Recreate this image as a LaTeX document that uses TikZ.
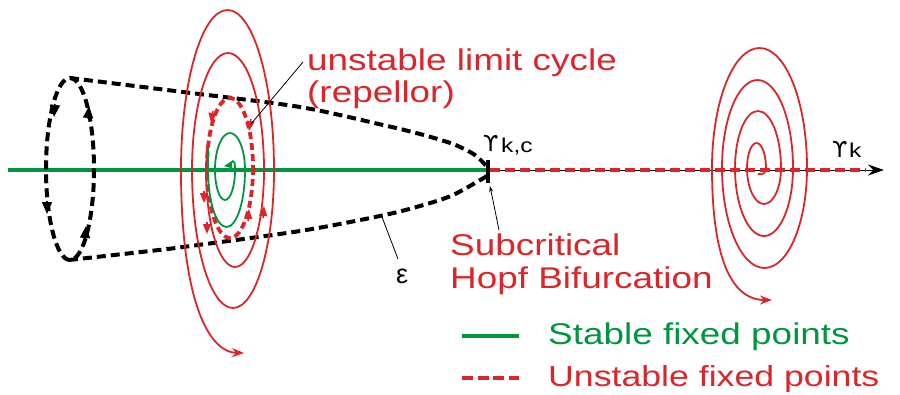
\documentclass[tikz,border=0pt]{standalone}
\usepackage{graphicx}
\usepackage{fontspec}
\setmainfont{Liberation Sans}
\newfontfamily\djv{DejaVu Sans}
\usetikzlibrary{arrows.meta}
\definecolor{cred}{RGB}{218,37,42}
\definecolor{cgreen}{RGB}{0,150,64}
\newcommand\widetxt[1]{\scalebox{1.23}[1]{#1}}
\begin{document}
\begin{tikzpicture}[x=1pt,y=-1pt,
  redthin/.style={draw=cred, line width=1.8pt},
  greenthin/.style={draw=cgreen, line width=1.8pt},
  reddash/.style={draw=cred, line width=3.8pt, dash pattern=on 7pt off 4pt},
  blackdash/.style={draw=black, line width=4pt, dash pattern=on 9pt off 5pt},
  redtip/.style={draw=cred, line width=1.5pt, -{Triangle[length=10pt,width=8pt]}},
  blacktip/.style={draw=black, line width=1.5pt, -{Triangle[length=12pt,width=10pt]}},
  pointer/.style={draw=black, line width=0.8pt},
  lbl/.style={font=\fontsize{30}{34}\selectfont, inner sep=0pt, anchor=base west}
]
\useasboundingbox (0,0) rectangle (900,394);

% ---- axis ----
\draw[cgreen, line width=3.5pt] (8,170) -- (487,170);
\draw[black, line width=1pt, -{Stealth[length=16pt,width=11pt]}] (487,170) -- (884,170);
\draw[reddash, line width=3.5pt, dash pattern=on 10pt off 5pt] (490,170) -- (866,170);

% ---- cone (black dashed) ----
\draw[blackdash] plot[smooth] coordinates {(70,78) (183,92) (300,107) (383,125) (420,134) (453,144) (475,155) (487,167)};
\draw[blackdash] plot[smooth] coordinates {(69,260) (150,251) (183,247) (300,231) (380,216) (420,206) (453,195) (487,176)};
\draw[blackdash] (70,169) ellipse[x radius=24, y radius=91];
\draw[black, line width=4pt] (488,160) -- (488,183);
\draw[blacktip] (55,104) -- (54,117);
\draw[blacktip] (88,119) -- (89,106);
\draw[blacktip] (47,201) -- (47,214);
\draw[blacktip] (85,239) -- (86,226);

% ---- left spirals ----
\draw[redthin, -{Stealth[length=12pt,width=9pt]}] (207,147) -- (206,170)
  arc[start angle=180, end angle=0, x radius=29, y radius=97]
  arc[start angle=0, end angle=-180, x radius=36, y radius=117]
  arc[start angle=180, end angle=0, x radius=41, y radius=138]
  arc[start angle=0, end angle=-180, x radius=46.5, y radius=160]
  .. controls (181,290) and (205,352) .. (244,353);
\draw[reddash] (230,168) ellipse[x radius=23, y radius=70];
\draw[greenthin] (208,147) -- (208,170)
  arc[start angle=180, end angle=0, x radius=18.5, y radius=57]
  arc[start angle=0, end angle=-180, x radius=15, y radius=37]
  arc[start angle=180, end angle=0, x radius=10, y radius=30]
  .. controls (235,155) and (232,163) .. (228,165);
\draw[cgreen, line width=1.2pt, -{Triangle[length=8pt,width=7pt]}] (232,165) -- (224,166);
\draw[redtip] (213,111) -- (211,123);
\draw[redtip] (251,119) -- (249,131);
\draw[redtip] (204,191) -- (204,203);
\draw[redtip] (207,222) -- (207,234);
\draw[redtip] (248,221) -- (249,209);
\draw[redtip] (263,218) -- (264,206);

% ---- right spiral ----
\draw[redthin, -{Stealth[length=12pt,width=9pt]}] (758,174) .. controls (763,175) and (766,173) .. (766,168)
  arc[start angle=0, end angle=-180, x radius=9.5, y radius=25]
  arc[start angle=180, end angle=0, x radius=17, y radius=36]
  arc[start angle=0, end angle=-180, x radius=23, y radius=57]
  arc[start angle=180, end angle=0, x radius=29, y radius=68]
  arc[start angle=0, end angle=-180, x radius=35.5, y radius=88]
  arc[start angle=180, end angle=0, x radius=42.5, y radius=100]
  arc[start angle=0, end angle=-180, x radius=47.5, y radius=120]
  .. controls (712,255) and (730,300) .. (772,300);

% ---- labels ----
\node[lbl, text=cred] (ulc) at (307,70) {\widetxt{unstable limit cycle}};
\node[lbl, text=cred] (rep) at (307,102) {\widetxt{(repellor)}};
\coordinate (ulcp) at (303,62);
\coordinate (ulct) at (251,124);
\draw[pointer] (ulcp) -- (ulct);

\node[lbl, text=cred] (sub) at (450,255) {\widetxt{Subcritical}};
\node[lbl, text=cred] (hopf) at (450,288) {\widetxt{Hopf Bifurcation}};
\coordinate (bifs) at (499,230);
\coordinate (bift) at (490,186);
\draw[pointer, -{Stealth[length=6pt,width=4pt]}] (bifs) -- (bift);

\node[inner sep=0pt, anchor=base west, font=\djv\fontsize{22}{26}\selectfont] (gkc) at (483,151) {ϒ};
\node[inner sep=0pt, anchor=base west, font=\fontsize{20}{22}\selectfont] (kc) at (501,152) {\widetxt{k,c}};
\node[inner sep=0pt, anchor=base west, font=\djv\fontsize{22}{26}\selectfont] (gk) at (832,157) {ϒ};
\node[inner sep=0pt, anchor=base west, font=\fontsize{20}{22}\selectfont] (k) at (849,157) {\widetxt{k}};

\node[inner sep=0pt, anchor=base west, font=\fontsize{27}{30}\selectfont] (eps) at (396,283) {ε};
\coordinate (epss) at (382,217);
\coordinate (epst) at (398,259);
\draw[pointer] (epss) -- (epst);

% ---- legend ----
\draw[cgreen, line width=3.5pt] (462,336) -- (519,336);
\draw[cred, line width=3.5pt, dash pattern=on 11pt off 4.7pt] (462,378) -- (519,378);
\node[lbl, text=cgreen] (stab) at (548,344) {\widetxt{Stable fixed points}};
\node[lbl, text=cred, font=\fontsize{29}{34}\selectfont] (unst) at (548,386) {\widetxt{Unstable fixed points}};
\end{tikzpicture}
\end{document}
